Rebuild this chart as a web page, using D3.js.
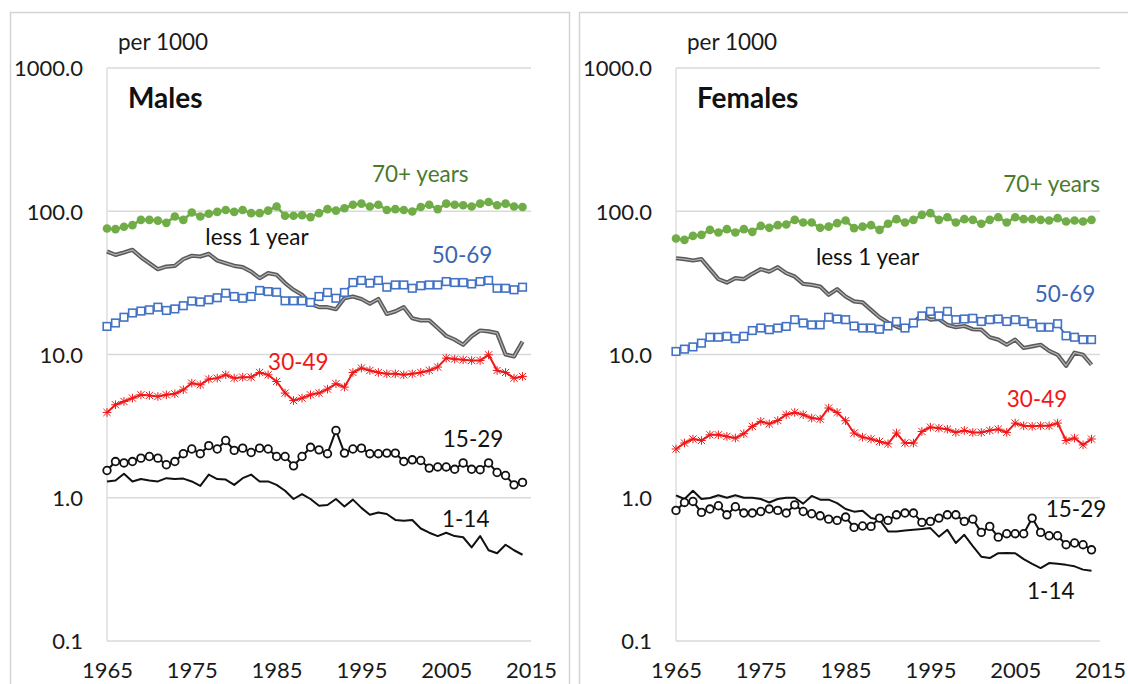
<!DOCTYPE html>
<html><head><meta charset="utf-8">
<script src="https://cdn.jsdelivr.net/npm/d3@7/dist/d3.min.js"></script>
<style>
body{margin:0;background:#fff;}
text{font-family:Lato,"Open Sans",sans-serif;}
</style>
</head><body>
<svg id="chart" width="1128" height="684"></svg>
<script>
// ---------- data ----------
const years = [1965,1966,1967,1968,1969,1970,1971,1972,1973,1974,1975,1976,1977,1978,1979,1980,1981,1982,1983,1984,
1985,1986,1987,1988,1989,1990,1991,1992,1993,1994,1995,1996,1997,1998,1999,2000,2001,2002,2003,2004,
2005,2006,2007,2008,2009,2010,2011,2012,2013,2014];
const xTicks = [1965,1975,1985,1995,2005,2015];
const yTicks = [1000,100,10,1,0.1];
const yTickLabels = ["1000.0","100.0","10.0","1.0","0.1"];
const seriesNames = ["less 1 year","1-14","15-29","30-49","50-69","70+ years"];

// Males
const maleLess1 = [52.4,49.6,51.5,53.8,47.8,43.4,39.4,41.1,41.6,46.3,48.9,48.3,50.4,45.3,43.4,41.6,40.7,37.9,34.1,37,
36,31.5,28.3,26.1,22.6,21.4,21.4,20.7,24.7,25.4,24.4,22.6,24.4,19.2,20,21.4,17.9,17.3,17.3,15.3,
13.5,12.7,11.7,13.4,14.7,14.5,14.1,10,9.7,12.3];
const male1to14 = [1.30,1.32,1.47,1.30,1.35,1.32,1.30,1.37,1.35,1.36,1.30,1.21,1.45,1.35,1.34,1.23,1.37,1.45,1.30,1.30,
1.23,1.12,0.98,1.06,0.98,0.88,0.89,0.98,0.87,0.97,0.85,0.76,0.79,0.77,0.70,0.69,0.70,0.61,0.57,0.54,
0.57,0.54,0.53,0.45,0.54,0.43,0.41,0.47,0.43,0.40];
const male15to29 = [1.55,1.79,1.75,1.79,1.89,1.94,1.89,1.70,1.79,2.03,2.19,2.03,2.31,2.19,2.51,2.14,2.22,2.07,2.22,2.19,
1.94,1.94,1.67,1.94,2.25,2.16,2.03,2.95,2.05,2.19,2.22,2.03,2.03,2.05,2.05,1.79,1.84,1.82,1.61,1.64,
1.64,1.58,1.75,1.58,1.57,1.75,1.50,1.43,1.23,1.28];
const male30to49 = [3.94,4.46,4.70,4.96,5.23,5.18,5.09,5.23,5.32,5.67,6.31,6.15,6.73,6.84,7.21,6.84,6.95,6.95,7.49,7.21,
6.48,5.38,4.77,4.96,5.23,5.38,5.73,6.25,5.92,7.49,8.04,7.74,7.49,7.33,7.33,7.21,7.33,7.49,7.74,8.17,
9.44,9.29,9.18,9.08,9.08,9.95,7.74,7.49,6.84,7.03];
const male50to69 = [15.7,16.6,18.2,19.5,20.1,20.5,21.4,20.3,20.8,21.9,23.6,23.3,24.1,24.9,26.8,25.4,24.7,25.4,28,27.5,
27.2,23.7,23.7,23.7,23.1,25.4,27.1,24.7,27.1,31.8,32.9,31.5,32.9,29.5,30.6,30.6,29,30.2,30.6,30.6,
32.3,31.8,31.8,31.1,32.3,32.9,29,29,28.3,29.5];
const male70plus = [75.7,75,78,80,87,87,86,83,92,87,98,92,96,99,102,99,102,97,97,101,
108,93,93,94,91,97,103.5,101,105,111,113,108,111,102,103.5,102,99.5,107,111,103.5,
113,111,110,108,113,116,110,113,108,107];

// Females
const femaleLess1 = [47.0,46.3,45.3,46.3,39.4,33.6,31.8,34.1,33.6,36.6,39.4,37.9,40.7,37.0,35.0,31.1,30.6,29.8,26.1,28.6,
25.4,23.5,23.1,20.5,18.2,16.7,15.7,14.9,16.7,18.9,17.5,17.7,16.1,15.5,15.8,15.0,14.9,13.2,12.7,11.7,
12.7,11.1,11.4,11.7,10.6,9.95,8.34,10.3,9.95,8.48];
const female1to14 = [1.04,0.98,1.12,0.98,0.997,1.04,1.00,1.04,1.00,1.00,0.98,0.927,0.98,1.00,1.00,0.91,1.03,0.97,0.97,0.917,
0.834,0.80,0.81,0.721,0.702,0.582,0.582,0.591,0.597,0.604,0.614,0.535,0.597,0.483,0.551,0.460,0.388,0.379,0.41,0.411,
0.41,0.373,0.346,0.323,0.35,0.346,0.34,0.332,0.315,0.309];
const female15to29 = [0.816,0.927,0.942,0.790,0.834,0.879,0.760,0.865,0.782,0.782,0.802,0.834,0.816,0.782,0.892,0.802,0.773,0.748,0.709,0.695,
0.733,0.621,0.635,0.631,0.721,0.695,0.760,0.782,0.782,0.673,0.684,0.721,0.760,0.760,0.684,0.709,0.573,0.631,0.531,0.561,
0.561,0.561,0.721,0.573,0.543,0.543,0.470,0.483,0.470,0.433];
const female30to49 = [2.19,2.41,2.57,2.51,2.75,2.75,2.68,2.61,2.80,3.15,3.41,3.28,3.46,3.80,3.94,3.80,3.60,3.54,4.23,3.94,
3.45,2.83,2.65,2.57,2.47,2.38,2.83,2.41,2.41,2.90,3.11,3.06,3.01,2.86,2.95,2.86,2.86,2.95,3.01,2.86,
3.32,3.18,3.15,3.18,3.18,3.32,2.51,2.61,2.34,2.57];
const female50to69 = [10.5,10.9,11.3,12.0,13.2,13.2,13.4,12.9,13.4,14.7,15.3,14.9,15.3,15.7,17.5,16.6,16.1,16.1,18.2,17.7,
17.5,15.8,15.3,15.3,15.0,15.8,17.0,15.3,16.6,18.6,20.0,18.6,20.0,17.5,17.7,17.9,17.0,17.5,17.7,17.0,
17.5,17.0,16.4,15.5,15.5,16.4,13.5,13.2,12.7,12.7];
const female70plus = [64.5,63.1,67.3,68.4,74.1,71.0,75.0,71.0,75.0,71.8,79.1,76.6,80,80.9,87.1,83.4,83.4,76.6,78.1,82.6,
86.1,76.2,78.1,80,74.1,81.7,88.1,83.4,87.1,94.4,97.0,87.1,90.9,83.4,88.1,87.1,81.7,87.1,90.9,83.4,
90.9,88.1,88.1,87.1,86.1,89.5,84.8,86.1,84.8,87.1];

// label anchors (year, value) for the series annotations
const maleLabelAnchors = [[1976.6,58.3],[2004.5,0.628],[2004.6,2.27],[1984.0,7.82],[2003.3,43.6],[1996.25,160]];
const femaleLabelAnchors = [[1981.5,42.3],[2006.4,0.197],[2008.6,0.737],[2004.0,4.32],[2007.3,23.3],[2003.6,136.6]];

// ---------- styles ----------
const styles = {
  "less 1 year": {color:"#5a5a5a", text:"#111", marker:null, width:4.2, dbl:true},
  "1-14": {color:"#111", text:"#111", marker:null, width:2},
  "15-29": {color:"#111", text:"#111", marker:"ocircle", width:2},
  "30-49": {color:"#f01818", text:"#f01818", marker:"star", width:2},
  "50-69": {color:"#4472c4", text:"#3a66b5", marker:"square", width:2},
  "70+ years": {color:"#70ad47", text:"#4a7a2c", marker:"dot", width:2.6}
};

const svg = d3.select("#chart");

// panel frames
svg.append("rect").attr("x",10.5).attr("y",12.5).attr("width",559).attr("height",700)
  .attr("fill","none").attr("stroke","#d4d4d4").attr("stroke-width",1.5);
svg.append("rect").attr("x",579.5).attr("y",12.5).attr("width",600).attr("height",700)
  .attr("fill","none").attr("stroke","#d4d4d4").attr("stroke-width",1.5);

function drawPanel(left, title, seriesData, labelAnchors) {
  const g = svg.append("g");
  const x = d3.scaleLinear().domain([1965,2015]).range([left, left+424]);
  const y = d3.scaleLog().domain([0.1,1000]).range([641,68]);

  // gridlines
  g.selectAll("line.grid").data(yTicks).join("line")
    .attr("x1",left).attr("x2",left+424)
    .attr("y1",d=>y(d)).attr("y2",d=>y(d))
    .attr("stroke","#d9d9d9").attr("stroke-width",1.3);
  g.append("line").attr("x1",left).attr("x2",left).attr("y1",y(1000)).attr("y2",y(0.1))
    .attr("stroke","#d9d9d9").attr("stroke-width",1.3);

  // y axis labels
  const ya = g.append("g").attr("transform",`translate(${left},0)`)
    .call(d3.axisLeft(y).tickValues(yTicks).tickFormat((d,i)=>yTickLabels[i]).tickSize(0).tickPadding(24));
  ya.select(".domain").remove();
  ya.selectAll("text").attr("font-family","Lato").attr("font-size",22).attr("fill","#1a1a1a").attr("dy","0.36em");

  // x axis labels
  const xa = g.append("g").attr("transform",`translate(0,641)`)
    .call(d3.axisBottom(x).tickValues(xTicks).tickFormat(d3.format("d")).tickSize(0));
  xa.select(".domain").remove();
  xa.selectAll("text").attr("font-family","Lato").attr("font-size",22).attr("fill","#1a1a1a")
    .attr("y",37).attr("dy",0);

  // "per 1000" and title
  g.append("text").attr("x",left+11).attr("y",50).attr("font-size",22.5).attr("fill","#1a1a1a").text("per 1000");
  g.append("text").attr("x",left+21).attr("y",108).attr("font-size",28).attr("font-weight","bold").attr("fill","#111").text(title);

  const line = d3.line().x((d,i)=>x(years[i])).y(d=>y(d));

  seriesNames.forEach((name, k) => {
    const vals = seriesData[k];
    const st = styles[name];
    const sg = g.append("g");
    sg.append("path").attr("d", line(vals)).attr("fill","none")
      .attr("stroke", st.color).attr("stroke-width", st.width).attr("stroke-linejoin","round");
    if (st.dbl) {
      sg.append("path").attr("d", line(vals)).attr("fill","none")
        .attr("stroke", "#b5b5b5").attr("stroke-width", 1.2).attr("stroke-linejoin","round");
    }
    const pts = vals.map((v,i)=>({x:x(years[i]), y:y(v)}));
    if (st.marker === "dot") {
      sg.selectAll("circle").data(pts).join("circle")
        .attr("cx",d=>d.x).attr("cy",d=>d.y).attr("r",4.3).attr("fill",st.color);
    } else if (st.marker === "ocircle") {
      sg.selectAll("circle").data(pts).join("circle")
        .attr("cx",d=>d.x).attr("cy",d=>d.y).attr("r",3.8).attr("fill","#fff")
        .attr("stroke",st.color).attr("stroke-width",1.8);
    } else if (st.marker === "square") {
      sg.selectAll("rect").data(pts).join("rect")
        .attr("x",d=>d.x-3.8).attr("y",d=>d.y-3.8).attr("width",7.6).attr("height",7.6)
        .attr("fill","#fff").attr("stroke",st.color).attr("stroke-width",1.6);
    } else if (st.marker === "star") {
      const s = 3.6;
      sg.selectAll("path.star").data(pts).join("path").attr("class","star")
        .attr("d",d=>`M${d.x-s},${d.y-s}L${d.x+s},${d.y+s}M${d.x-s},${d.y+s}L${d.x+s},${d.y-s}M${d.x},${d.y-s*1.2}L${d.x},${d.y+s*1.2}M${d.x-s*1.2},${d.y}L${d.x+s*1.2},${d.y}`)
        .attr("stroke",st.color).attr("stroke-width",1).attr("fill","none");
    }
    const a = labelAnchors[k];
    g.append("text").attr("x", x(a[0])).attr("y", y(a[1]))
      .attr("font-size",22.5).attr("fill",st.text).text(name);
  });
}

drawPanel(107, "Males",
  [maleLess1, male1to14, male15to29, male30to49, male50to69, male70plus], maleLabelAnchors);
drawPanel(676, "Females",
  [femaleLess1, female1to14, female15to29, female30to49, female50to69, female70plus], femaleLabelAnchors);
</script>
</body></html>
